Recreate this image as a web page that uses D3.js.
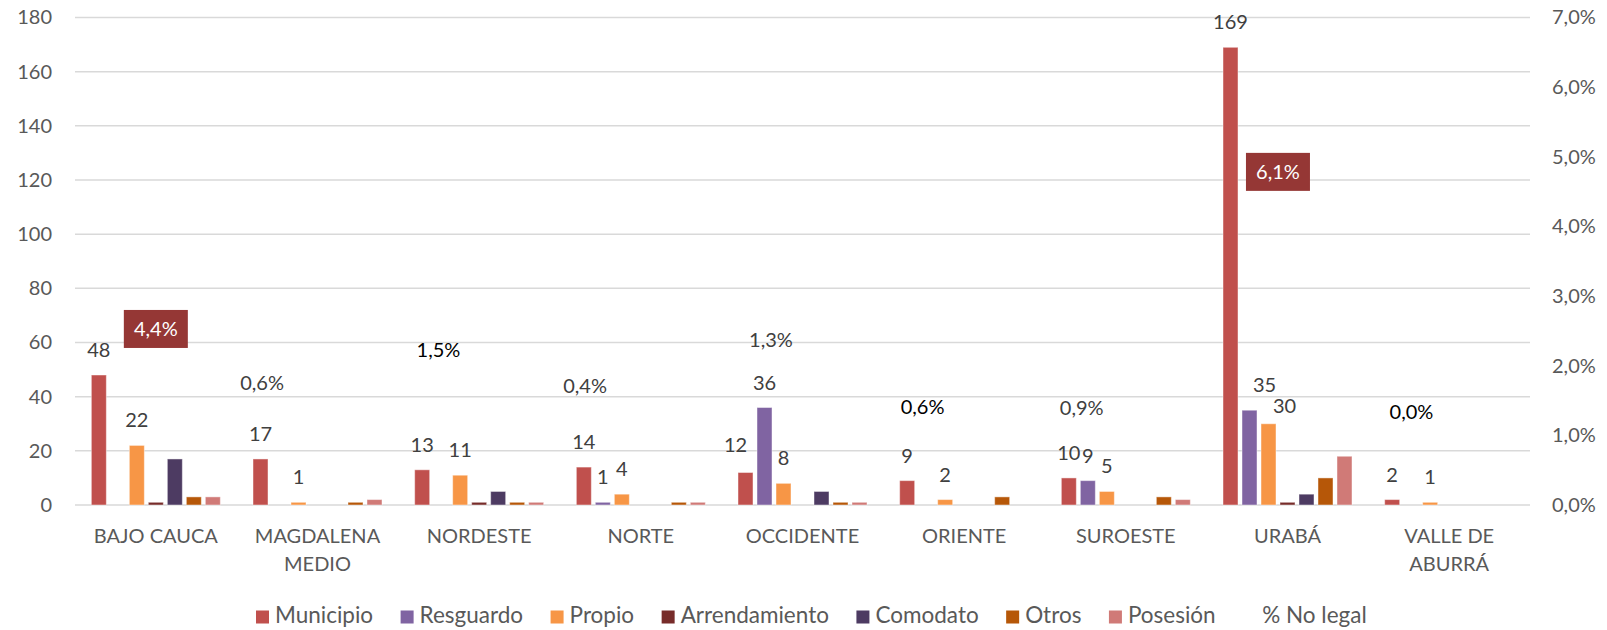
<!DOCTYPE html>
<html><head><meta charset="utf-8">
<script src="https://cdn.jsdelivr.net/npm/d3@7"></script>
<style>
html,body{margin:0;padding:0;background:#fff;}
svg{display:block;font-family:Lato,"Open Sans",sans-serif;}
</style></head>
<body><svg id="chart" width="1607" height="630"></svg>
<script>
const categories = ["BAJO CAUCA","MAGDALENA MEDIO","NORDESTE","NORTE","OCCIDENTE","ORIENTE","SUROESTE","URABÁ","VALLE DE ABURRÁ"];
const categoryLines = [["BAJO CAUCA"],["MAGDALENA","MEDIO"],["NORDESTE"],["NORTE"],["OCCIDENTE"],["ORIENTE"],["SUROESTE"],["URABÁ"],["VALLE DE","ABURRÁ"]];
const seriesNames = ["Municipio","Resguardo","Propio","Arrendamiento","Comodato","Otros","Posesión"];
const seriesColors = ["#C0504D","#8064A2","#F79646","#772C2A","#4D3B62","#B65708","#D07A77"];
const municipio     = [48,17,13,14,12,9,10,169,2];
const resguardo     = [0,0,0,1,36,0,9,35,0];
const propio        = [22,1,11,4,8,2,5,30,1];
const arrendamiento = [1,0,1,0,0,0,0,1,0];
const comodato      = [17,0,5,0,5,0,0,4,0];
const otros         = [3,1,1,1,1,3,3,10,0];
const posesion      = [3,2,1,1,1,0,2,18,0];
const labeledSeries = [true,true,true,false,false,false,false];
const pctNoLegal    = [4.4,0.6,1.5,0.4,1.3,0.6,0.9,6.1,0.0];
// manual label anchors for "% No legal": [offset in category bands, value on left axis]
const pctLabelAnchor = [[0,65.0],[-0.343,45.1],[-0.252,57.2],[-0.345,43.9],[-0.195,60.9],[-0.257,36.1],[-0.273,35.7],[-0.059,123.0],[-0.233,34.5]];
const pctLabelStyle = ["box","gray","black","gray","gray","black","gray","box","black"];
// manually moved value labels (pixel nudges)
const labelNudge = {"OCCIDENTE|Municipio":[-10,-2.5], "URABÁ|Resguardo":[15,0], "URABÁ|Propio":[16,7]};
const leftTicks = [0,20,40,60,80,100,120,140,160,180];
const rightTicks = [0,0.01,0.02,0.03,0.04,0.05,0.06,0.07];

const seriesValues = [municipio,resguardo,propio,arrendamiento,comodato,otros,posesion];

const svg = d3.select("#chart");
const plotL = 75, plotR = 1530, plotT = 17.5, plotB = 505;
const fontSize = 20;

const x0 = d3.scaleBand().domain(categories).range([plotL, plotR]).padding(0);
const x1 = d3.scaleBand().domain(seriesNames).range([0, x0.bandwidth()]).paddingInner(4/19).paddingOuter(0.86);
const y = d3.scaleLinear().domain([0,180]).range([plotB, plotT]);
const y2 = d3.scaleLinear().domain([0,0.07]).range([plotB, plotT]);

// gridlines
svg.append("g").selectAll("line").data(leftTicks).join("line")
  .attr("x1", plotL).attr("x2", plotR)
  .attr("y1", d => y(d)).attr("y2", d => y(d))
  .attr("stroke", "#d9d9d9").attr("stroke-width", 1.5);

const fmt2 = v => d3.format(".1f")(v*100).replace(".", ",") + "%";
const gL = svg.append("g").attr("transform", `translate(${plotL},0)`)
  .call(d3.axisLeft(y).tickValues(leftTicks).tickSize(0).tickPadding(23));
gL.select(".domain").remove();
gL.selectAll("text").attr("font-size", fontSize).attr("fill", "#595959").attr("font-family", "Lato");

const gR = svg.append("g").attr("transform", `translate(${plotR},0)`)
  .call(d3.axisRight(y2).tickValues(rightTicks).tickSize(0).tickPadding(22).tickFormat(fmt2));
gR.select(".domain").remove();
gR.selectAll("text").attr("font-size", fontSize).attr("fill", "#595959").attr("font-family", "Lato");

// x axis labels
const gx = svg.append("g");
categories.forEach((c, i) => {
  const t = gx.append("text").attr("x", x0(c) + x0.bandwidth()/2).attr("y", 543)
    .attr("text-anchor", "middle").attr("font-size", fontSize).attr("fill", "#595959");
  categoryLines[i].forEach((ln, j) => {
    t.append("tspan").attr("x", x0(c) + x0.bandwidth()/2).attr("dy", j === 0 ? 0 : 28).text(ln);
  });
});

// bars
const rows = [];
categories.forEach((c, i) => {
  seriesNames.forEach((s, k) => rows.push({c, s, k, v: seriesValues[k][i]}));
});
const gB = svg.append("g");
gB.selectAll("rect").data(rows.filter(d => d.v > 0)).join("rect")
  .attr("x", d => x0(d.c) + x1(d.s))
  .attr("width", x1.bandwidth())
  .attr("y", d => y(d.v))
  .attr("height", d => y(0) - y(d.v))
  .attr("fill", d => seriesColors[d.k])
  .attr("stroke", "rgba(255,255,255,0.45)").attr("stroke-width", 1);

// bar value labels
const nud = d => labelNudge[d.c + "|" + d.s] || [0,0];
gB.selectAll("text").data(rows.filter(d => d.v > 0 && labeledSeries[d.k])).join("text")
  .attr("x", d => x0(d.c) + x1(d.s) + x1.bandwidth()/2 + nud(d)[0])
  .attr("y", d => y(d.v) - 25 + nud(d)[1])
  .attr("dy", "0.35em")
  .attr("text-anchor", "middle").attr("font-size", fontSize).attr("fill", "#404040")
  .text(d => d.v);

// % No legal labels
const gP = svg.append("g");
categories.forEach((c, i) => {
  const cx = x0(c) + x0.bandwidth()/2 + pctLabelAnchor[i][0]*x0.bandwidth();
  const cy = y(pctLabelAnchor[i][1]);
  const txt = d3.format(".1f")(pctNoLegal[i]).replace(".", ",") + "%";
  const st = pctLabelStyle[i];
  if (st === "box") {
    gP.append("rect").attr("x", cx - 32).attr("y", cy - 19).attr("width", 64).attr("height", 38).attr("fill", "#953735");
  }
  gP.append("text").attr("x", cx).attr("y", cy).attr("dy", "0.35em")
    .attr("text-anchor", "middle").attr("font-size", fontSize)
    .attr("fill", st === "box" ? "#ffffff" : (st === "black" ? "#000000" : "#404040"))
    .text(txt);
});

// legend
const legendItems = seriesNames.map((s, k) => ({name: s, color: seriesColors[k]}));
legendItems.push({name: "% No legal", color: null});
const gLeg = svg.append("g");
const legFont = 22.5, sw = 13, gapSwText = 6, gapItem = 27.5;
let xx = 0;
const placed = [];
legendItems.forEach(it => {
  const t = gLeg.append("text").attr("font-size", legFont).attr("fill", "#595959").text(it.name);
  const w = t.node().getComputedTextLength();
  placed.push({it, t, x: xx, w});
  xx += sw + gapSwText + w + gapItem;
});
const startX = 256;
placed.forEach(p => {
  const bx = startX + p.x;
  if (p.it.color) gLeg.append("rect").attr("x", bx).attr("y", 610.5).attr("width", sw).attr("height", sw).attr("fill", p.it.color);
  p.t.attr("x", bx + sw + gapSwText).attr("y", 623);
});
</script>
</body></html>
